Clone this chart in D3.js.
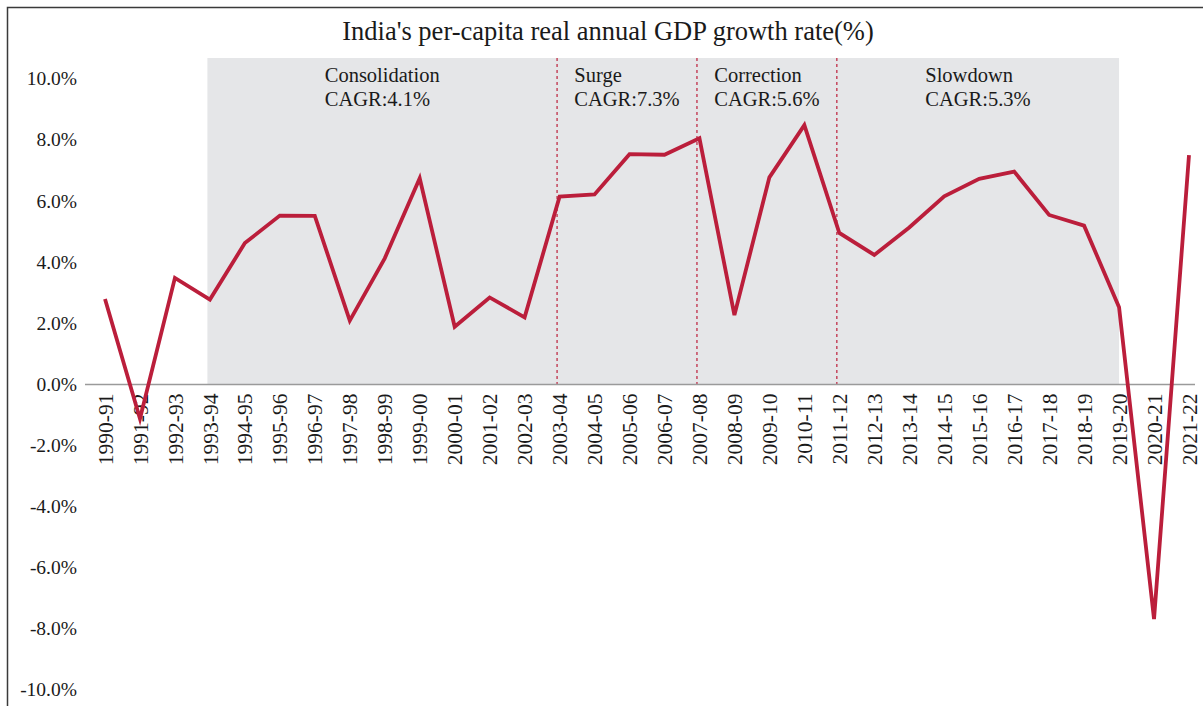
<!DOCTYPE html>
<html>
<head>
<meta charset="utf-8">
<script src="https://cdn.jsdelivr.net/npm/d3@7/dist/d3.min.js"></script>
<style>
  html, body { margin: 0; padding: 0; background: #fff; }
  svg { display: block; font-family: "Liberation Serif", "DejaVu Serif", serif; }
</style>
</head>
<body>
<svg id="chart" width="1203" height="706"></svg>
<script>
// Fiscal years on the category axis
const years = [
  "1990-91","1991-92","1992-93","1993-94","1994-95","1995-96","1996-97","1997-98",
  "1998-99","1999-00","2000-01","2001-02","2002-03","2003-04","2004-05","2005-06",
  "2006-07","2007-08","2008-09","2009-10","2010-11","2011-12","2012-13","2013-14",
  "2014-15","2015-16","2016-17","2017-18","2018-19","2019-20","2020-21","2021-22"
];

// Per-capita real GDP growth, percent
const growth = [
  2.80, -1.12, 3.49, 2.78, 4.63, 5.53, 5.52, 2.09,
  4.13, 6.75, 1.89, 2.85, 2.20, 6.15, 6.22, 7.54,
  7.52, 8.06, 2.27, 6.78, 8.49, 4.96, 4.24, 5.14,
  6.16, 6.73, 6.97, 5.55, 5.20, 2.53, -7.68, 7.51
];

// Y axis ticks
const yTicks = [10, 8, 6, 4, 2, 0, -2, -4, -6, -8, -10];

// Growth phases: first and last year of each shaded band
const phaseNames = ["Consolidation", "Surge", "Correction", "Slowdown"];
const phaseCagr  = ["CAGR:4.1%", "CAGR:7.3%", "CAGR:5.6%", "CAGR:5.3%"];
const phaseStart = ["1993-94", "2003-04", "2007-08", "2011-12"];
const phaseEnd   = ["2003-04", "2007-08", "2011-12", "2019-20"];

const title = "India's per-capita real annual GDP growth rate(%)";

const svg = d3.select("#chart");
const ink = "#1a1a1a";
const lineColor = "#BB1E3B";

const x = d3.scalePoint().domain(years).range([105, 1189]);
const y = d3.scaleLinear().domain([-10, 10]).range([690, 79]);
const bandTop = 58;
const shift = -2.5;

// outer frame
svg.append("rect")
  .attr("x", 7.5).attr("y", 7.5)
  .attr("width", 1210).attr("height", 720)
  .attr("fill", "none").attr("stroke", "#3a3a3a").attr("stroke-width", 1.5);

// title
svg.append("text")
  .attr("x", 608).attr("y", 40)
  .attr("text-anchor", "middle")
  .attr("font-size", 26.5).attr("fill", ink)
  .text(title);

// shaded band covering all phases
svg.append("rect")
  .attr("x", x(phaseStart[0]) + shift)
  .attr("y", bandTop)
  .attr("width", x(phaseEnd[phaseEnd.length - 1]) - x(phaseStart[0]) - shift)
  .attr("height", y(0) - bandTop)
  .attr("fill", "#E5E6E8");

// dotted phase separators
phaseStart.slice(1).forEach(s => {
  svg.append("line")
    .attr("x1", x(s) + shift).attr("x2", x(s) + shift)
    .attr("y1", bandTop).attr("y2", y(0))
    .attr("stroke", "#C23A52").attr("stroke-width", 1.4)
    .attr("stroke-dasharray", "3,3");
});

// phase labels: two left-aligned lines, block centred in its phase
phaseNames.forEach((name, i) => {
  const x0 = x(phaseStart[i]) + shift;
  const x1 = i === phaseNames.length - 1 ? x(phaseEnd[i]) : x(phaseEnd[i]) + shift;
  const g = svg.append("g");
  const t1 = g.append("text").attr("y", 82).attr("font-size", 20.5).attr("fill", ink).text(name);
  const t2 = g.append("text").attr("y", 106).attr("font-size", 20.5).attr("fill", ink).text(phaseCagr[i]);
  const w = Math.max(t1.node().getComputedTextLength(), t2.node().getComputedTextLength());
  const left = (x0 + x1) / 2 - w / 2;
  t1.attr("x", left);
  t2.attr("x", left);
});

// y axis labels (no axis line)
const yAxis = d3.axisLeft(y).tickValues(yTicks).tickSize(0).tickPadding(0)
  .tickFormat(d => d.toFixed(1) + "%");
const yg = svg.append("g").attr("transform", "translate(77,0)").call(yAxis);
yg.select(".domain").remove();
yg.selectAll("text").attr("font-size", 19.5).attr("fill", ink)
  .attr("font-family", "Liberation Serif").attr("dy", "0.3em");

// zero line
svg.append("line")
  .attr("x1", 85).attr("x2", 1195)
  .attr("y1", y(0)).attr("y2", y(0))
  .attr("stroke", "#9a9a9a").attr("stroke-width", 1.5);

// x axis labels, rotated
const xAxis = d3.axisBottom(x).tickSize(0).tickPadding(0);
const xg = svg.append("g").attr("transform", `translate(0,${y(0)})`).call(xAxis);
xg.select(".domain").remove();
xg.selectAll("text")
  .attr("font-size", 21.5).attr("fill", ink).attr("font-family", "Liberation Serif")
  .attr("text-anchor", "end")
  .attr("transform", "rotate(-90)")
  .attr("x", -9).attr("y", 0).attr("dy", "0.33em");

// growth line
const line = d3.line()
  .x((d, i) => x(years[i]))
  .y(d => y(d));
svg.append("path")
  .datum(growth)
  .attr("d", line)
  .attr("fill", "none")
  .attr("stroke", lineColor)
  .attr("stroke-width", 3.8)
  .attr("stroke-linejoin", "miter");
</script>
</body>
</html>
